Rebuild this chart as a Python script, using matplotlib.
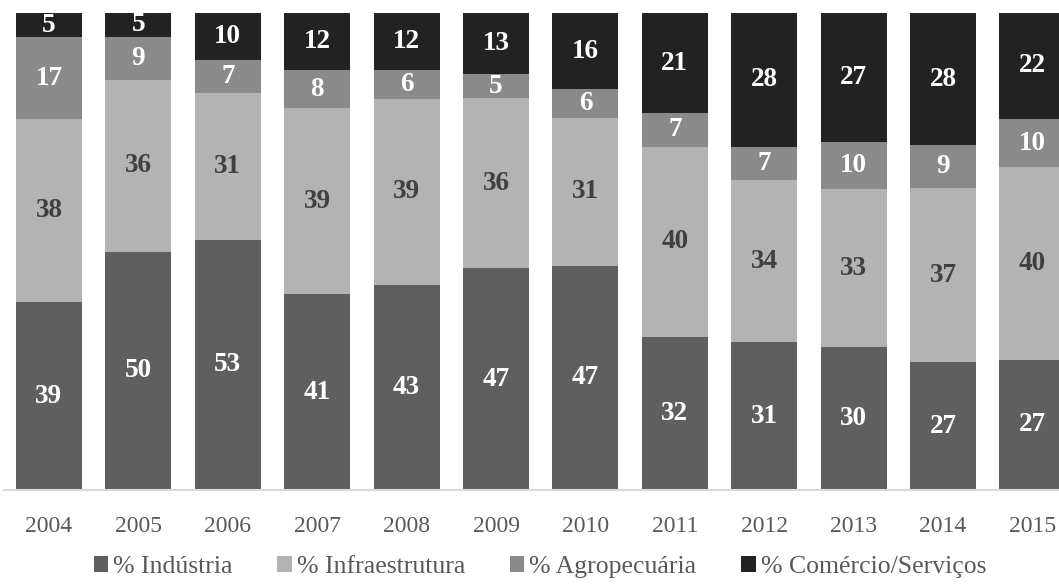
import matplotlib
matplotlib.use("Agg")
import matplotlib.pyplot as plt
from matplotlib.patches import Patch
import numpy as np

years = ["2004", "2005", "2006", "2007", "2008", "2009", "2010", "2011", "2012", "2013", "2014", "2015"]
industria = [39, 50, 53, 41, 43, 47, 47, 32, 31, 30, 27, 27]
infraestrutura = [38, 36, 31, 39, 39, 36, 31, 40, 34, 33, 37, 40]
agropecuaria = [17, 9, 7, 8, 6, 5, 6, 7, 7, 10, 9, 10]
comercio = [5, 5, 10, 12, 12, 13, 16, 21, 28, 27, 28, 22]

# (legend label, values, bar colour, label colour)
series = [
    ("% Indústria", industria, "#5f5f5f", "white"),
    ("% Infraestrutura", infraestrutura, "#b3b3b3", "#404040"),
    ("% Agropecuária", agropecuaria, "#8a8a8a", "white"),
    ("% Comércio/Serviços", comercio, "#222222", "white"),
]

SERIF = ["Liberation Serif", "DejaVu Serif"]
plt.rcParams["font.family"] = SERIF

W, H = 1059, 586
fig = plt.figure(figsize=(W / 100, H / 100), dpi=100)
ax = fig.add_axes([4 / W, 1 - 490 / H, 1 - 4 / W, (490 - 13) / H])

x = np.arange(len(years))
totals = np.sum([s[1] for s in series], axis=0)
bottom = np.zeros(len(years))
for name, vals, color, tcolor in series:
    vals = np.array(vals, dtype=float)
    share = vals / totals * 100
    ax.bar(x, share, width=0.74, bottom=bottom, color=color, label=name, zorder=2)
    for xi, b, s, v in zip(x, bottom, share, vals):
        ax.text(xi, b + s / 2, f"{int(v)}", ha="center", va="center",
                color=tcolor, fontsize=19.5, fontweight="bold", family=SERIF, zorder=3)
    bottom += share

ax.set_xlim(-45 / 89.4, (1059 - 49) / 89.4)
ax.set_ylim(0, 100)
ax.set_xticks(x)
ax.set_xticklabels(years, fontsize=17, color="#595959", family=SERIF)
ax.tick_params(axis="x", length=0, pad=19)
ax.set_yticks([])
for side in ["top", "right", "left"]:
    ax.spines[side].set_visible(False)
ax.spines["bottom"].set_color("#d9d9d9")
ax.spines["bottom"].set_linewidth(1.5)

handles = [Patch(facecolor=c, edgecolor="none") for _, _, c, _ in series]
labels = [n for n, _, _, _ in series]
leg = fig.legend(handles, labels, loc="center", bbox_to_anchor=(540 / W, 1 - 567 / H),
                 ncol=4, frameon=False, prop={"family": SERIF, "size": 18.5},
                 handlelength=0.55, handleheight=0.55,
                 handletextpad=0.2, columnspacing=1.75)
for t in leg.get_texts():
    t.set_color("#595959")

fig.savefig("out.png", dpi=100)
